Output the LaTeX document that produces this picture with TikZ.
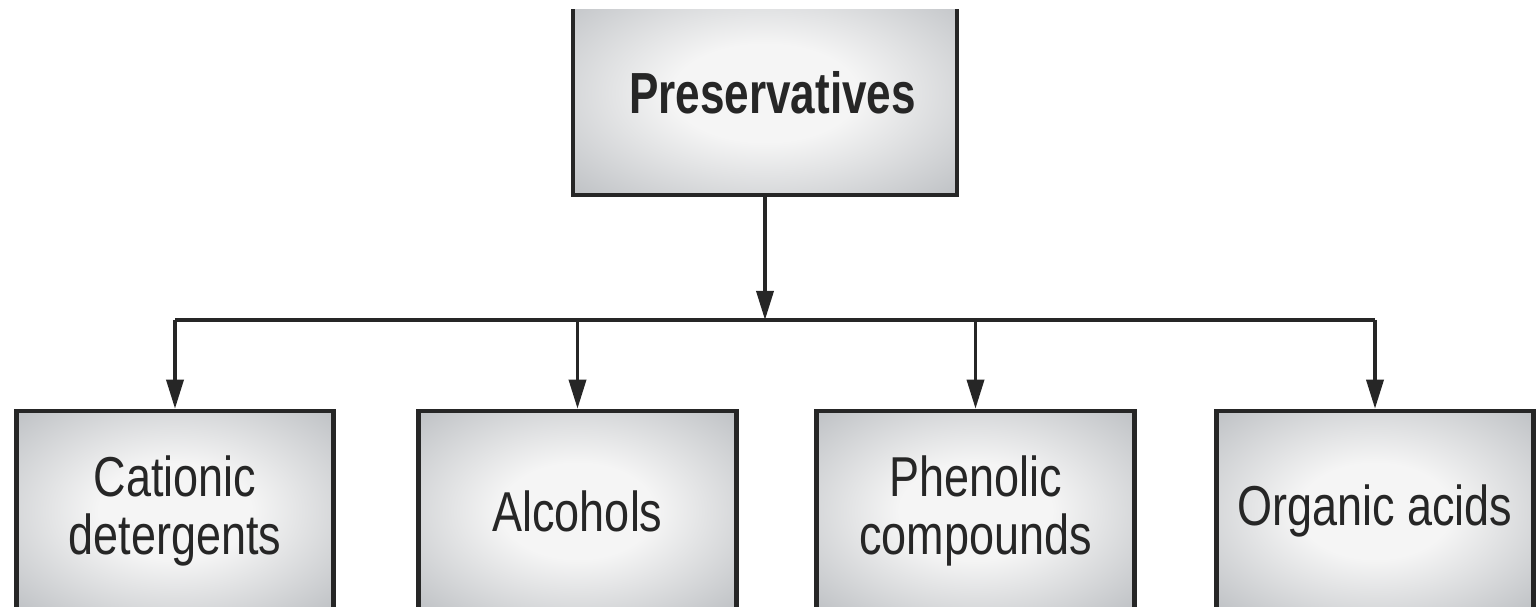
\documentclass[tikz,border=0pt]{standalone}
\usepackage{fontspec}
\setmainfont{Liberation Sans}
\newfontfamily\boxfont[FakeStretch=0.8]{Liberation Sans}
\newfontfamily\titlefont[FakeStretch=0.76]{Liberation Sans}
\usetikzlibrary{arrows.meta}
\definecolor{boxedge}{RGB}{166,170,175}
\definecolor{boxmid}{RGB}{245,245,245}
\pgfdeclareradialshading{boxglow}{\pgfpoint{0bp}{0bp}}{color(0bp)=(boxmid);color(12bp)=(boxmid);color(46bp)=(boxedge);color(50bp)=(boxedge)}
\tikzset{
  catbox/.style={draw=black!85,line width=2.6pt,shading=boxglow,minimum width=6.35cm,minimum height=4cm,inner sep=0pt,align=center,text=black!85,font=\boxfont\fontsize{32}{33}\selectfont},
  bus/.style={black!85,line width=2pt},
  feed/.style={bus,-{Triangle[length=.58cm,width=.34cm]}}
}
\begin{document}
\begin{tikzpicture}
\useasboundingbox(0,0)rectangle(30.74,12.12);
\clip(0,0)rectangle(30.74,11.92);
\node[catbox,minimum width=7.68cm,minimum height=4.08cm,font=\titlefont\bfseries\fontsize{33}{34}\selectfont](pres)at(15.30,10.26){\hspace{.3cm}Preservatives};
\coordinate(hub)at(15.30,5.72);
\node[catbox](cat)at(3.50,1.90){Cationic\\detergents};
\node[catbox](alc)at(11.55,1.90){Alcohols};
\node[catbox](phe)at(19.51,1.90){Phenolic\\compounds};
\node[catbox](org)at(27.50,1.90){Organic acids};
\draw[feed](pres.south)--(hub);
\draw[bus](cat.north|-hub)--(org.north|-hub);
\foreach\b in{cat,alc,phe,org}{\draw[feed](\b.north|-hub)--(\b.north);}
\end{tikzpicture}
\end{document}
